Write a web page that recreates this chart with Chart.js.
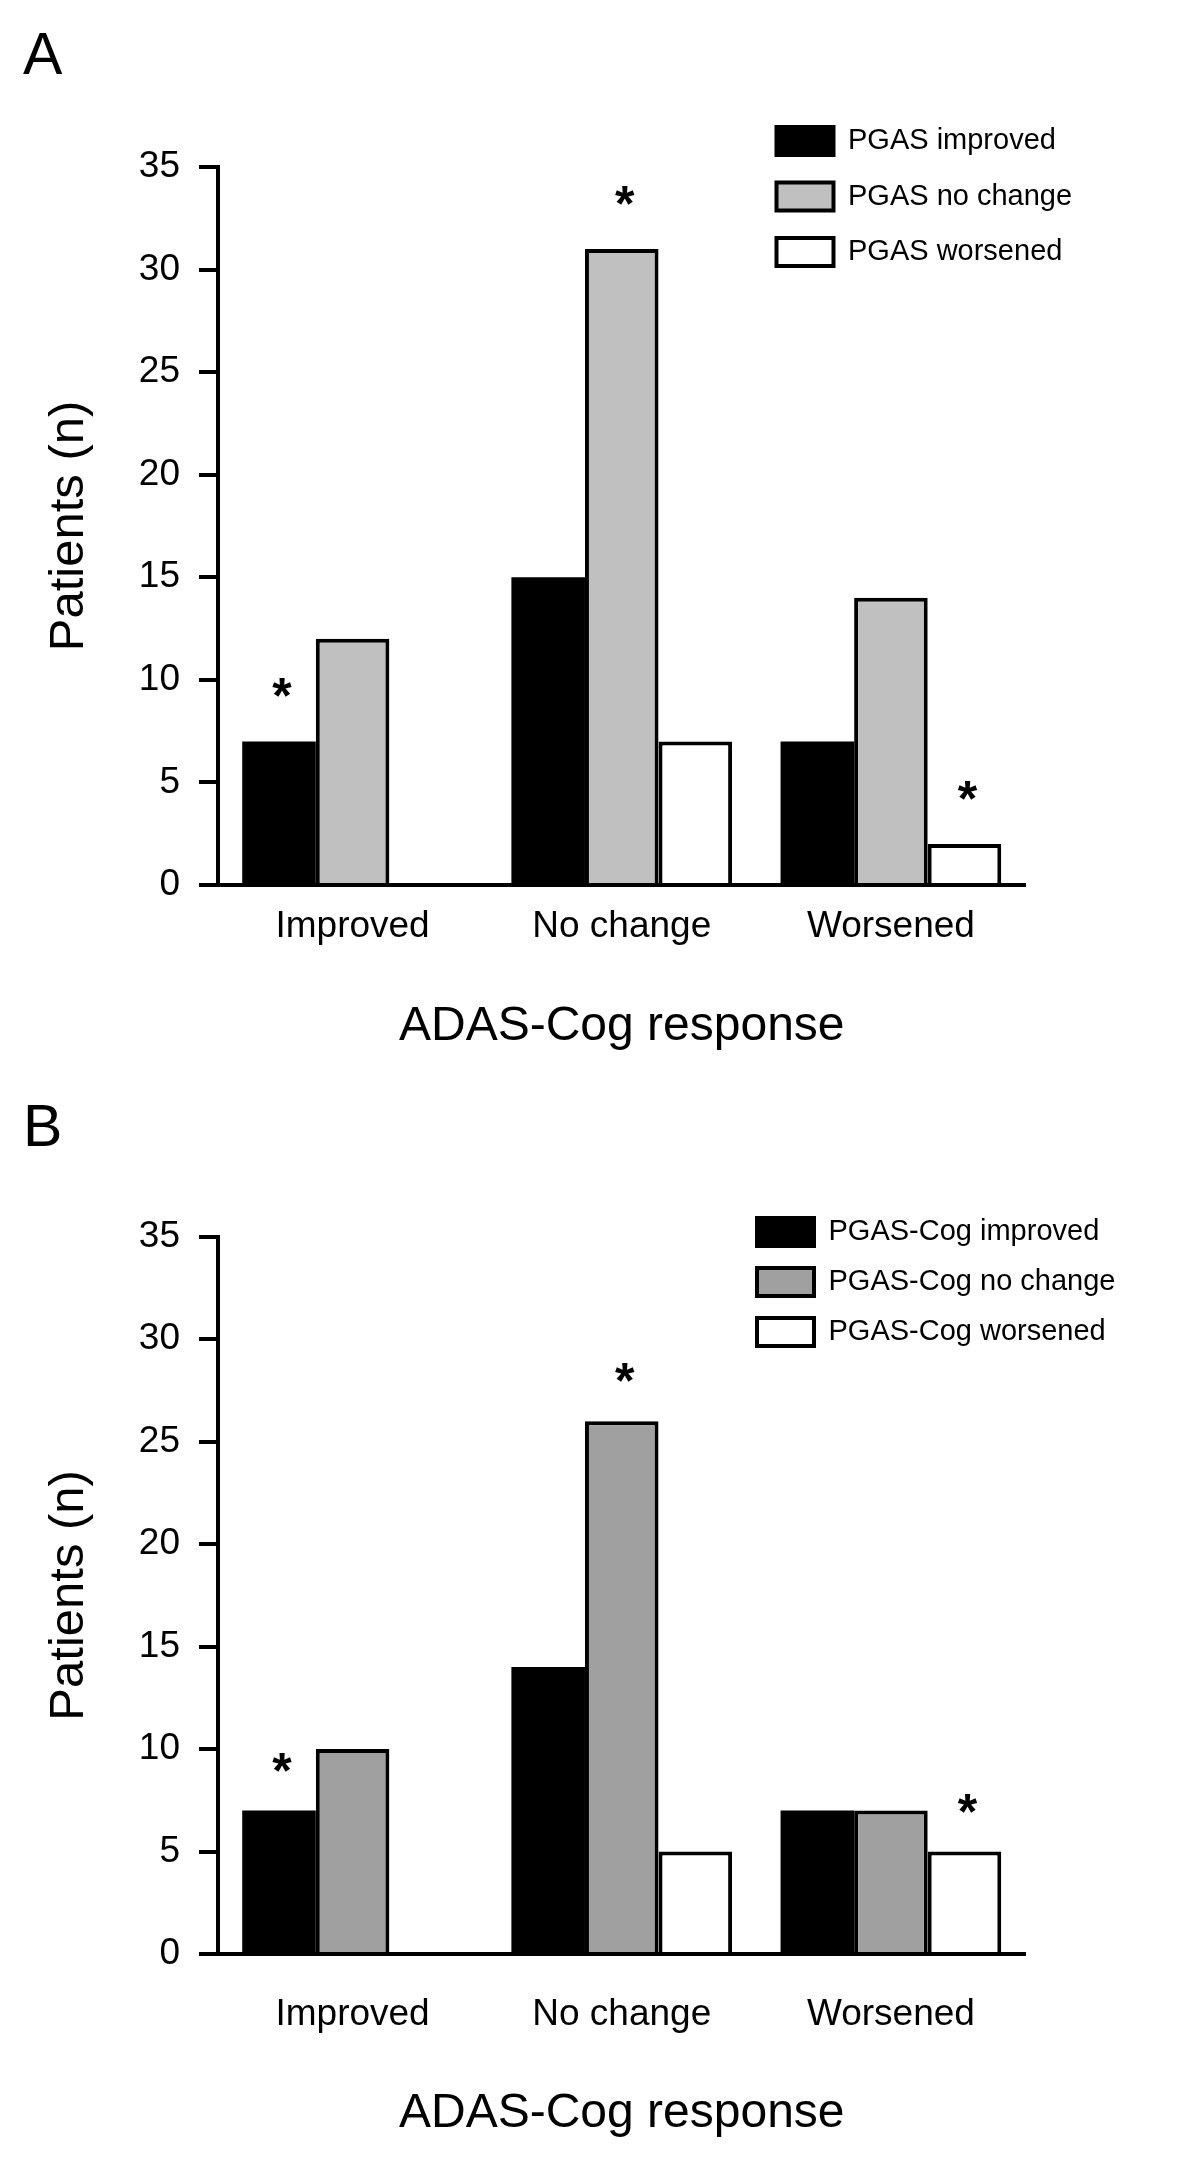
<!DOCTYPE html>
<html>
<head>
<meta charset="utf-8">
<script src="https://cdn.jsdelivr.net/npm/chart.js@4.4.1/dist/chart.umd.min.js"></script>
<style>
  html, body { margin: 0; padding: 0; background: #fff; }
  canvas { display: block; }
</style>
</head>
<body>
<canvas id="panelA" width="1200" height="1080"></canvas>
<canvas id="panelB" width="1200" height="1080"></canvas>
<script>
const categories = ['Improved', 'No change', 'Worsened'];

const pgasLabels = ['PGAS improved', 'PGAS no change', 'PGAS worsened'];
const pgasImproved = [7, 15, 7];
const pgasNoChange = [12, 31, 14];
const pgasWorsened = [0, 7, 2];

const cogLabels = ['PGAS-Cog improved', 'PGAS-Cog no change', 'PGAS-Cog worsened'];
const cogImproved = [7, 14, 7];
const cogNoChange = [10, 26, 7];
const cogWorsened = [0, 5, 5];

// [dataset, category] pairs that carry an asterisk
const starsA = [[0, 0], [1, 1], [2, 2]];
const starsB = [[0, 0], [1, 1], [2, 2]];

const yMin = 0, yMax = 35, yStep = 5;

Chart.defaults.font.family = "'Liberation Sans', Arial, Helvetica, sans-serif";
Chart.defaults.color = '#000';

// put the legend where the figure has it (top right, above the plot)
const legendSpot = {
    id: 'legendSpot',
    afterLayout(chart, args, opts) {
        const lg = chart.legend;
        lg.left = opts.x;
        lg.top = opts.y;
        lg.right = chart.width;
        lg.bottom = opts.y + 300;
    }
};

// asterisks over the significant bars
const stars = {
    id: 'stars',
    afterDatasetsDraw(chart, args, opts) {
        const ctx = chart.ctx;
        ctx.save();
        ctx.font = "bold " + opts.size + "px 'Liberation Sans', Arial, sans-serif";
        ctx.fillStyle = '#000';
        ctx.textAlign = 'center';
        ctx.textBaseline = 'alphabetic';
        opts.marks.forEach(([ds, i]) => {
            const bar = chart.getDatasetMeta(ds).data[i];
            ctx.fillText('*', bar.x + 3, bar.y - opts.lift);
        });
        ctx.restore();
    }
};

function makePanel(id, letter, labels, values, gray, marks, lay) {
    const fills = ['#000000', gray, '#ffffff'];
    return new Chart(document.getElementById(id), {
        type: 'bar',
        data: {
            labels: categories,
            datasets: values.map((v, k) => ({
                label: labels[k],
                data: v,
                backgroundColor: fills[k],
                borderColor: '#000000',
                // black bars need no outline (avoids a light seam inside them)
                borderWidth: k === 0 ? 0 : 4,
                categoryPercentage: 0.82,
                barPercentage: 1.0
            }))
        },
        options: {
            responsive: false,
            animation: false,
            events: [],
            layout: { padding: { left: 23, right: 174.5, top: 0, bottom: 0 } },
            scales: {
                x: {
                    offset: true,
                    grid: { display: false, drawTicks: false },
                    border: { display: true, color: '#000', width: 4, z: 1 },
                    ticks: { font: { size: 37 }, padding: lay.tickPad, maxRotation: 0 },
                    title: {
                        display: true,
                        text: 'ADAS-Cog response',
                        font: { size: 48 },
                        padding: { top: 0, bottom: lay.xTitlePad }
                    },
                    afterFit(s) { s.height = lay.xHeight; }
                },
                y: {
                    min: yMin,
                    max: yMax,
                    grid: {
                        drawOnChartArea: false,
                        drawTicks: true,
                        tickLength: 19,
                        lineWidth: 4,
                        color: '#000'
                    },
                    border: { display: true, color: '#000', width: 4, z: 1 },
                    ticks: { stepSize: yStep, font: { size: 37 }, padding: 19 },
                    title: {
                        display: true,
                        text: 'Patients (n)',
                        font: { size: 49 },
                        padding: { top: 17, bottom: 0 }
                    },
                    afterFit(s) { s.width = 195; }
                }
            },
            plugins: {
                title: {
                    display: true,
                    text: letter,
                    align: 'start',
                    font: { size: 59, weight: 'normal' },
                    padding: { top: lay.letterTop, bottom: lay.letterBottom }
                },
                legend: {
                    position: 'chartArea',
                    align: 'start',
                    labels: {
                        boxWidth: 57,
                        boxHeight: 28,
                        padding: lay.legendGap,
                        font: { size: 29 },
                        generateLabels(chart) {
                            return Chart.defaults.plugins.legend.labels.generateLabels(chart)
                                .map(item => Object.assign(item, { lineWidth: 4, strokeStyle: '#000' }));
                        }
                    }
                },
                tooltip: { enabled: false },
                legendSpot: { x: lay.legendX, y: lay.legendY },
                stars: { marks: marks, size: 50, lift: lay.starLift }
            }
        },
        plugins: [legendSpot, stars]
    });
}

makePanel('panelA', 'A', pgasLabels, [pgasImproved, pgasNoChange, pgasWorsened], '#c0c0c0', starsA, {
    letterTop: 22.6, letterBottom: 73.6,
    xHeight: 195, tickPad: 20, xTitlePad: 24.8,
    legendX: 750, legendY: 100, legendGap: 26.5,
    starLift: 28
});

makePanel('panelB', 'B', cogLabels, [cogImproved, cogNoChange, cogWorsened], '#a0a0a0', starsB, {
    letterTop: 14.6, letterBottom: 71.3,
    xHeight: 206, tickPad: 38.3, xTitlePad: 17.8,
    legendX: 736, legendY: 116.5, legendGap: 21,
    starLift: 23
});
</script>
</body>
</html>
